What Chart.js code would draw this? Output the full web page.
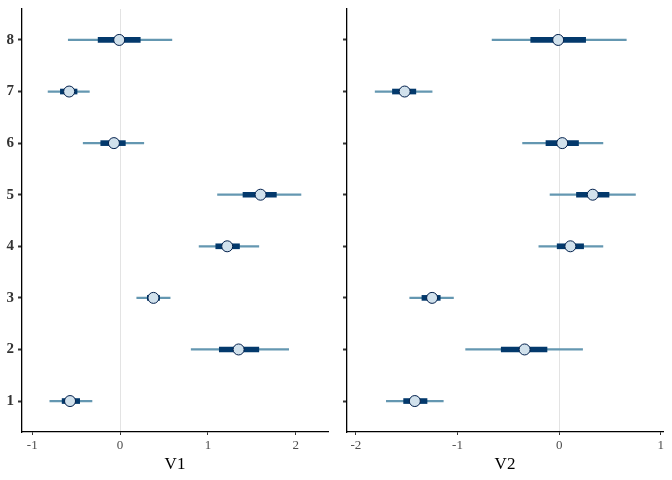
<!DOCTYPE html>
<html>
<head>
<meta charset="utf-8">
<script src="https://cdn.jsdelivr.net/npm/chart.js@4"></script>
<style>
  body { margin: 0; background: #fff; }
  .panel { position: absolute; top: 0; width: 336px; height: 480px; }
</style>
</head>
<body>
<div class="panel" style="left:0"><canvas id="v1Chart"></canvas></div>
<div class="panel" style="left:336px"><canvas id="v2Chart"></canvas></div>
<script>
const categories = [1, 2, 3, 4, 5, 6, 7, 8];

// V1 intervals (outer = thin line, inner = thick line, med = point)
const v1OuterLo = [-0.80, 0.81, 0.19, 0.90, 1.11, -0.42, -0.82, -0.59];
const v1OuterHi = [-0.32, 1.92, 0.57, 1.58, 2.06, 0.27, -0.35, 0.59];
const v1InnerLo = [-0.66, 1.13, 0.31, 1.09, 1.40, -0.22, -0.68, -0.25];
const v1InnerHi = [-0.46, 1.58, 0.45, 1.36, 1.78, 0.06, -0.49, 0.23];
const v1Med = [-0.57, 1.35, 0.38, 1.22, 1.60, -0.07, -0.58, -0.01];

// V2 intervals
const v2OuterLo = [-1.70, -0.92, -1.47, -0.20, -0.09, -0.36, -1.81, -0.66];
const v2OuterHi = [-1.14, 0.23, -1.04, 0.43, 0.75, 0.43, -1.25, 0.66];
const v2InnerLo = [-1.53, -0.57, -1.35, -0.02, 0.17, -0.13, -1.64, -0.28];
const v2InnerHi = [-1.30, -0.12, -1.17, 0.24, 0.49, 0.19, -1.41, 0.26];
const v2Med = [-1.42, -0.34, -1.25, 0.11, 0.33, 0.03, -1.52, -0.01];

const v1Ticks = [-1, 0, 1, 2];
const v2Ticks = [-2, -1, 0, 1];

const serif = "'Liberation Serif', 'DejaVu Serif', serif";

function makePanel(id, title, outerLo, outerHi, innerLo, innerHi, med, xTicks, xMin, xMax, showY, yWidth, padRight) {
    const ctx = document.getElementById(id).getContext("2d");
    new Chart(ctx, {
        type: "bar",
        data: {
            datasets: [{
                type: "scatter",
                data: categories.map((c, i) => ({ x: med[i], y: c })),
                pointRadius: 5.5,
                pointBackgroundColor: "#d1e1ec",
                pointBorderColor: "#011f4b",
                pointBorderWidth: 1,
                order: 0
            }, {
                data: categories.map((c, i) => ({ x: [innerLo[i], innerHi[i]], y: c })),
                backgroundColor: "#03396c",
                barThickness: 5,
                grouped: false,
                order: 1
            }, {
                data: categories.map((c, i) => ({ x: [outerLo[i], outerHi[i]], y: c })),
                backgroundColor: "#6497b1",
                barThickness: 1.6,
                grouped: false,
                order: 2
            }]
        },
        options: {
            indexAxis: "y",
            responsive: true,
            maintainAspectRatio: false,
            animation: false,
            layout: { padding: { top: 9, right: padRight, bottom: 0, left: 0 } },
            plugins: { legend: { display: false }, tooltip: { enabled: false } },
            scales: {
                x: {
                    type: "linear",
                    min: xMin,
                    max: xMax,
                    offset: false,
                    afterBuildTicks: s => { s.ticks = xTicks.map(v => ({ value: v })); },
                    afterFit: s => { s.height = 48; s.paddingLeft = 0; s.paddingRight = 0; },
                    border: { color: "#000", width: 1.3 },
                    grid: {
                        offset: false,
                        color: c => c.tick && c.tick.value === 0 ? "#e3e3e3" : "rgba(0,0,0,0)",
                        tickColor: "#333",
                        tickLength: 3,
                        lineWidth: 1
                    },
                    ticks: { color: "#4d4d4d", font: { family: serif, size: 13 }, padding: 3 },
                    title: {
                        display: true,
                        text: title,
                        color: "#000",
                        font: { family: serif, size: 17 },
                        padding: { top: 0, bottom: 5 }
                    }
                },
                y: {
                    type: "linear",
                    min: 0.4,
                    max: 8.6,
                    offset: false,
                    afterBuildTicks: s => { s.ticks = categories.map(v => ({ value: v })); },
                    afterFit: s => { s.width = yWidth; s.paddingTop = 0; s.paddingBottom = 0; },
                    border: { color: "#000", width: 1.3 },
                    grid: { offset: false, drawOnChartArea: false, tickColor: "#333", tickLength: 4, tickWidth: 2 },
                    ticks: {
                        color: "#333",
                        font: { family: serif, size: 15, weight: "bold" },
                        padding: 4,
                        callback: v => showY ? String(v) : ""
                    }
                }
            }
        }
    });
}

makePanel("v1Chart", "V1", v1OuterLo, v1OuterHi, v1InnerLo, v1InnerHi, v1Med, v1Ticks, -1.117, 2.368, true, 22, 8);
makePanel("v2Chart", "V2", v2OuterLo, v2OuterHi, v2InnerLo, v2InnerHi, v2Med, v2Ticks, -2.087, 1.021, false, 11, 9);
</script>
</body>
</html>
